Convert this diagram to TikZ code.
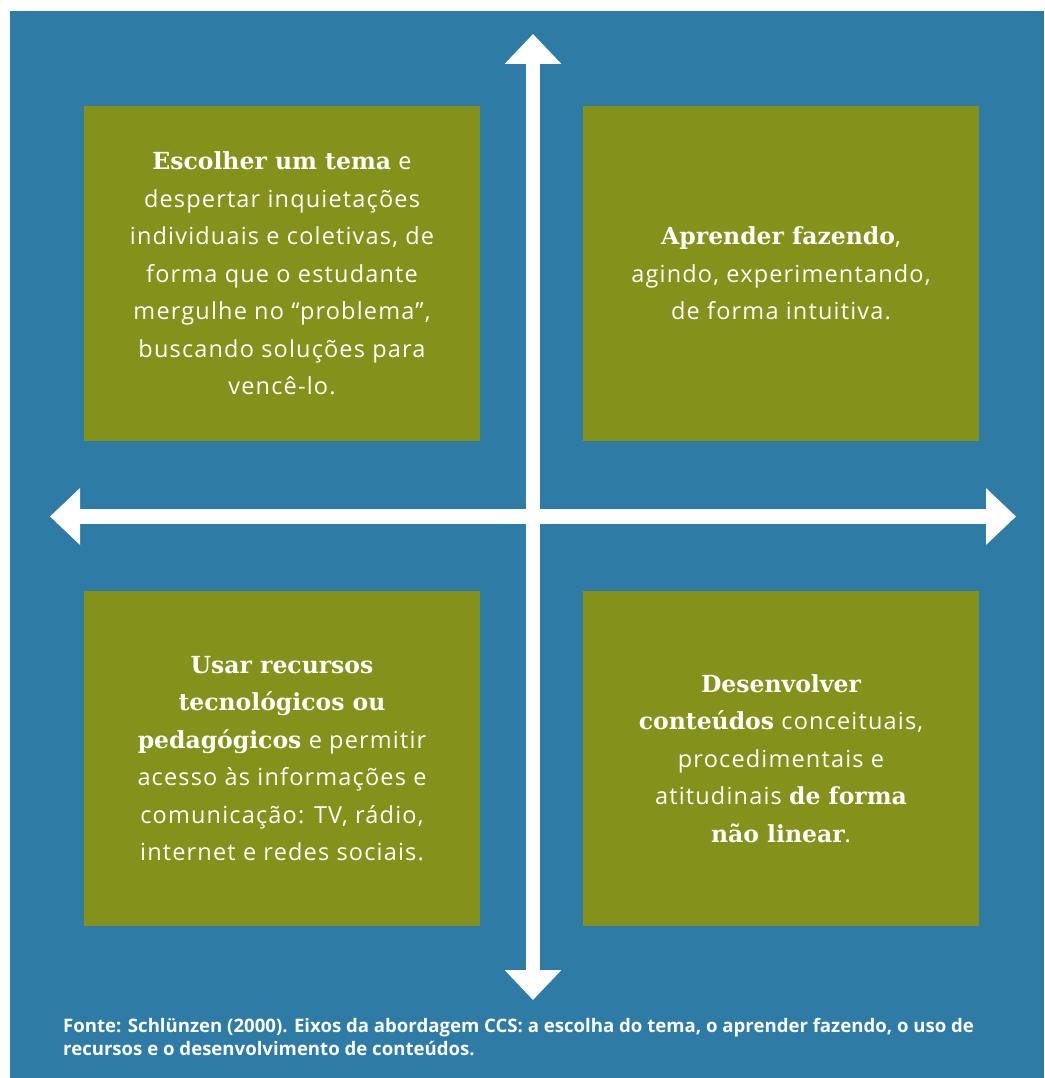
\documentclass[tikz,border=0pt]{standalone}
\usepackage{fontspec}
\setmainfont{Open Sans}[LetterSpace=5]
\newfontfamily\slabfont{DejaVu Serif}
\newfontfamily\capfont{Open Sans}
\usetikzlibrary{arrows.meta}
\definecolor{bgblue}{RGB}{46,124,165}
\definecolor{boxgreen}{RGB}{132,145,27}
\newcommand{\hb}[1]{{\slabfont\bfseries #1}}
\tikzset{
  box/.style={fill=boxgreen, minimum width=396pt, minimum height=335pt, inner sep=0pt,
    text=white, align=center, font=\fontsize{23.5}{37.5}\selectfont},
  axis/.style={white, {Triangle[length=30pt,width=55pt]}-{Triangle[length=30pt,width=55pt]}},
}
\begin{document}
\begin{tikzpicture}[x=1pt,y=-1pt]
\useasboundingbox (0,0) rectangle (1044,1078);
\fill[white] (0,0) rectangle (1044,1078);
\fill[bgblue] (10,11) rectangle (1044,1078);
\node[box] (tl) at (282,273.5) {\hb{Escolher um tema} e\\despertar inquietações\\individuais e coletivas, de\\forma que o estudante\\mergulhe no “problema”,\\buscando soluções para\\vencê-lo.};
\node[box] (tr) at (781,273.5) {\hb{Aprender fazendo},\\agindo, experimentando,\\de forma intuitiva.};
\node[box] (bl) at (282,758.5) {\hb{Usar recursos}\\\hb{tecnológicos ou}\\\hb{pedagógicos} e permitir\\acesso às informações e\\comunicação: TV, rádio,\\internet e redes sociais.};
\node[box] (br) at (781,758.5) {\hb{Desenvolver}\\\hb{conteúdos} conceituais,\\procedimentais e\\atitudinais \hb{de forma}\\\hb{não linear}.};
\coordinate (vtop) at (533,34);
\coordinate (vbot) at (533,1000);
\coordinate (hleft) at (50,516.5);
\coordinate (hright) at (1016,516.5);
\draw[axis, line width=15pt] (hleft) -- (hright);
\draw[axis, line width=14pt] (vtop) -- (vbot);
\node[anchor=north west, inner sep=0pt, text=white, align=left,
  font=\capfont\bfseries\fontsize{18.6}{23}\selectfont] (cap) at (63,1018)
  {Fonte: Schlünzen (2000). Eixos da abordagem CCS: a escolha do tema, o aprender fazendo, o uso de\\recursos e o desenvolvimento de conteúdos.};
\end{tikzpicture}
\end{document}
